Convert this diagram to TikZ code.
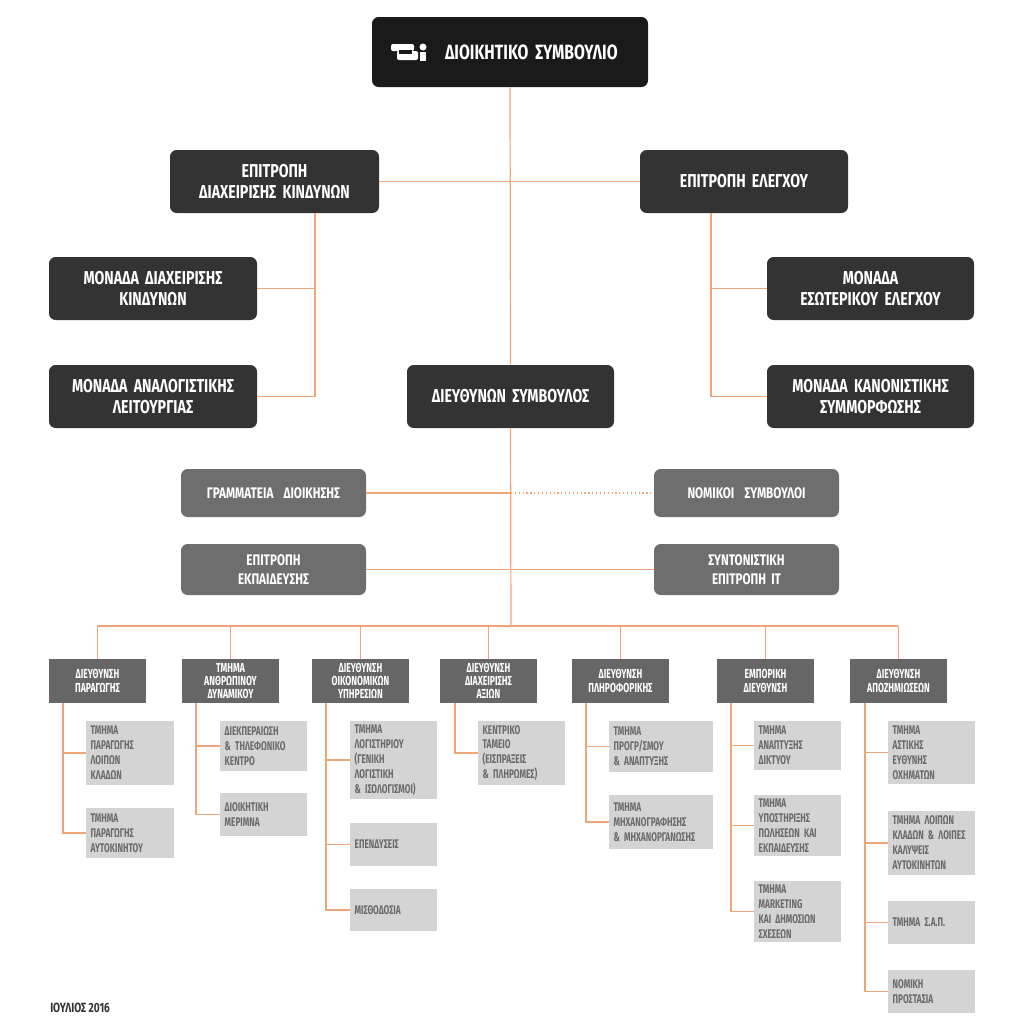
\documentclass[tikz,border=0pt]{standalone}
\usepackage{fontspec}
\setmainfont[FakeStretch=0.76]{Fira Sans}
\newfontfamily\narrowf[FakeStretch=0.66]{Fira Sans}
\definecolor{ln}{HTML}{EFA57A}
\definecolor{blk}{HTML}{1A1A1A}
\definecolor{drk}{HTML}{333333}
\definecolor{mid}{HTML}{6E6E6E}
\definecolor{dep}{HTML}{666666}
\definecolor{sub}{HTML}{D4D4D4}
\definecolor{subt}{HTML}{6A6A6A}
\newcommand{\bx}[7]{%
 \pgfmathsetmacro{\cxx}{(#3+#5)/2}\pgfmathsetmacro{\cyy}{(#4+#6)/2}%
 \pgfmathsetmacro{\ww}{(#5-#3)*0.75}\pgfmathsetmacro{\hh}{(#6-#4)*0.75}%
 \node[#2, minimum width=\ww pt, minimum height=\hh pt, text width=\ww pt-7pt] (#1) at (\cxx,\cyy) {#7};}
\newcommand{\subbx}[7]{\bx{#1}{subbox}{#2}{#3}{#4}{#5}{#7}\draw[con] (#6,703) |- (#1.west);}
\tikzset{
 x=0.75pt, y=-0.75pt,
 con/.style={draw=ln, line width=0.9pt},
 topbox/.style={fill=blk, rounded corners=5pt, text=white, align=center, font=\bfseries\fontsize{15.5}{17}\selectfont, inner sep=0pt},
 dbox/.style={fill=drk, rounded corners=5pt, text=white, align=center, font=\bfseries\fontsize{14}{16}\selectfont, inner sep=0pt},
 mbox/.style={fill=mid, rounded corners=5pt, text=white, align=center, font=\bfseries\fontsize{11.5}{14}\selectfont, inner sep=0pt},
 depbox/.style={fill=dep, text=white, align=center, font=\narrowf\bfseries\fontsize{9.8}{10}\selectfont, inner sep=0pt},
 subbox/.style={fill=sub, text=subt, align=left, font=\narrowf\bfseries\fontsize{9.4}{11.2}\selectfont, inner sep=0pt},
}
\begin{document}
\begin{tikzpicture}
\useasboundingbox (0,0) rectangle (1024,1032);
\bx{top}{topbox}{372}{17}{648}{87}{\hspace*{32pt}ΔΙΟΙΚΗΤΙΚΟ ΣΥΜΒΟΥΛΙΟ}
\fill[white,rounded corners=1.5pt] (391,44) rectangle (414,51) (397,51) rectangle (418,60);
\fill[blk] (399,50) rectangle (412,54);
\fill[white] (423,47) circle (3.5);
\fill[white] (420,52) rectangle (426,61);
\bx{erk}{dbox}{170}{150}{379}{213}{ΕΠΙΤΡΟΠΗ\\ΔΙΑΧΕΙΡΙΣΗΣ ΚΙΝΔΥΝΩΝ}
\bx{ee}{dbox}{640}{150}{848}{213}{ΕΠΙΤΡΟΠΗ ΕΛΕΓΧΟΥ}
\bx{mdk}{dbox}{49}{257}{257}{320}{ΜΟΝΑΔΑ ΔΙΑΧΕΙΡΙΣΗΣ\\ΚΙΝΔΥΝΩΝ}
\bx{mal}{dbox}{49}{365}{257}{428}{ΜΟΝΑΔΑ ΑΝΑΛΟΓΙΣΤΙΚΗΣ\\ΛΕΙΤΟΥΡΓΙΑΣ}
\bx{mee}{dbox}{767}{257}{974}{320}{ΜΟΝΑΔΑ\\ΕΣΩΤΕΡΙΚΟΥ ΕΛΕΓΧΟΥ}
\bx{mks}{dbox}{767}{365}{974}{428}{ΜΟΝΑΔΑ ΚΑΝΟΝΙΣΤΙΚΗΣ\\ΣΥΜΜΟΡΦΩΣΗΣ}
\bx{ds}{dbox}{407}{365}{614}{428}{ΔΙΕΥΘΥΝΩΝ ΣΥΜΒΟΥΛΟΣ}
\bx{gd}{mbox}{181}{469}{366}{517}{ΓΡΑΜΜΑΤΕΙΑ\ \ ΔΙΟΙΚΗΣΗΣ}
\bx{ns}{mbox}{654}{469}{839}{517}{ΝΟΜΙΚΟΙ\ \ ΣΥΜΒΟΥΛΟΙ}
\bx{ep}{mbox}{181}{544}{366}{595}{ΕΠΙΤΡΟΠΗ\\ΕΚΠΑΙΔΕΥΣΗΣ}
\bx{sy}{mbox}{654}{544}{839}{595}{ΣΥΝΤΟΝΙΣΤΙΚΗ\\ΕΠΙΤΡΟΠΗ IT}
\coordinate (bus) at (511,626);
\draw[con] (top.south) -- (ds.north);
\draw[con] (ds.south) -- (bus);
\draw[con] (erk.east) -- (ee.west);
\coordinate (lt) at (315,213); \coordinate (rt) at (711,213);
\draw[con] (lt) |- (mdk.east); \draw[con] (lt) |- (mal.east);
\draw[con] (rt) |- (mee.west); \draw[con] (rt) |- (mks.west);
\draw[con] (gd.east) -- (511,493);
\draw[ln, line width=0.9pt, dotted] (511,493) -- (ns.west);
\draw[con] (ep.east) -- (sy.west);
\draw[con] (97,626) -- (898,626);
\foreach \n/\a/\t in {d1/49/{ΔΙΕΥΘΥΝΣΗ\\ΠΑΡΑΓΩΓΗΣ}, d2/182/{ΤΜΗΜΑ\\ΑΝΘΡΩΠΙΝΟΥ\\ΔΥΝΑΜΙΚΟΥ}, d3/312/{ΔΙΕΥΘΥΝΣΗ\\ΟΙΚΟΝΟΜΙΚΩΝ\\ΥΠΗΡΕΣΙΩΝ}, d4/440/{ΔΙΕΥΘΥΝΣΗ\\ΔΙΑΧΕΙΡΙΣΗΣ\\ΑΞΙΩΝ}, d5/572/{ΔΙΕΥΘΥΝΣΗ\\ΠΛΗΡΟΦΟΡΙΚΗΣ}, d6/717/{ΕΜΠΟΡΙΚΗ\\ΔΙΕΥΘΥΝΣΗ}, d7/850/{ΔΙΕΥΘΥΝΣΗ\\ΑΠΟΖΗΜΙΩΣΕΩΝ}}{
 \pgfmathsetmacro{\bb}{\a+97}
 \bx{\n}{depbox}{\a}{659}{\bb}{703}{\t}
 \draw[con] (\n.north) -- (\n.north |- bus);
}
\subbx{s11}{86}{721}{174}{785}{63}{ΤΜΗΜΑ\\ΠΑΡΑΓΩΓΗΣ\\ΛΟΙΠΩΝ\\ΚΛΑΔΩΝ}
\subbx{s12}{86}{808}{174}{858}{63}{ΤΜΗΜΑ\\ΠΑΡΑΓΩΓΗΣ\\ΑΥΤΟΚΙΝΗΤΟΥ}
\subbx{s21}{220}{721}{307}{771}{196}{ΔΙΕΚΠΕΡΑΙΩΣΗ\\\& ΤΗΛΕΦΩΝΙΚΟ\\ΚΕΝΤΡΟ}
\subbx{s22}{220}{793}{307}{836}{196}{ΔΙΟΙΚΗΤΙΚΗ\\ΜΕΡΙΜΝΑ}
\subbx{s31}{350}{721}{437}{799}{326}{ΤΜΗΜΑ\\ΛΟΓΙΣΤΗΡΙΟΥ\\(ΓΕΝΙΚΗ\\ΛΟΓΙΣΤΙΚΗ\\\& ΙΣΟΛΟΓΙΣΜΟΙ)}
\subbx{s32}{350}{823}{437}{866}{326}{ΕΠΕΝΔΥΣΕΙΣ}
\subbx{s33}{350}{889}{437}{931}{326}{ΜΙΣΘΟΔΟΣΙΑ}
\subbx{s41}{478}{721}{565}{785}{455}{ΚΕΝΤΡΙΚΟ\\ΤΑΜΕΙΟ\\(ΕΙΣΠΡΑΞΕΙΣ\\\& ΠΛΗΡΩΜΕΣ)}
\subbx{s51}{609}{721}{713}{772}{586}{ΤΜΗΜΑ\\ΠΡΟΓΡ/ΣΜΟΥ\\\& ΑΝΑΠΤΥΞΗΣ}
\subbx{s52}{609}{795}{713}{849}{586}{ΤΜΗΜΑ\\ΜΗΧΑΝΟΓΡΑΦΗΣΗΣ\\\& ΜΗΧΑΝΟΡΓΑΝΩΣΗΣ}
\subbx{s61}{754}{721}{841}{770}{731}{ΤΜΗΜΑ\\ΑΝΑΠΤΥΞΗΣ\\ΔΙΚΤΥΟΥ}
\subbx{s62}{754}{795}{841}{856}{731}{ΤΜΗΜΑ\\ΥΠΟΣΤΗΡΙΞΗΣ\\ΠΩΛΗΣΕΩΝ ΚΑΙ\\ΕΚΠΑΙΔΕΥΣΗΣ}
\subbx{s63}{754}{881}{841}{942}{731}{ΤΜΗΜΑ\\MARKETING\\ΚΑΙ ΔΗΜΟΣΙΩΝ\\ΣΧΕΣΕΩΝ}
\subbx{s71}{888}{721}{975}{784}{865}{ΤΜΗΜΑ\\ΑΣΤΙΚΗΣ\\ΕΥΘΥΝΗΣ\\ΟΧΗΜΑΤΩΝ}
\subbx{s72}{888}{811}{975}{875}{865}{ΤΜΗΜΑ ΛΟΙΠΩΝ\\ΚΛΑΔΩΝ \& ΛΟΙΠΕΣ\\ΚΑΛΥΨΕΙΣ\\ΑΥΤΟΚΙΝΗΤΩΝ}
\subbx{s73}{888}{901}{975}{944}{865}{ΤΜΗΜΑ Σ.Α.Π.}
\subbx{s74}{888}{970}{975}{1013}{865}{ΝΟΜΙΚΗ\\ΠΡΟΣΤΑΣΙΑ}
\node[anchor=west, text=drk, font=\bfseries\fontsize{10}{11}\selectfont, inner sep=0pt] (date) at (50,1008) {ΙΟΥΛΙΟΣ 2016};
\end{tikzpicture}
\end{document}
